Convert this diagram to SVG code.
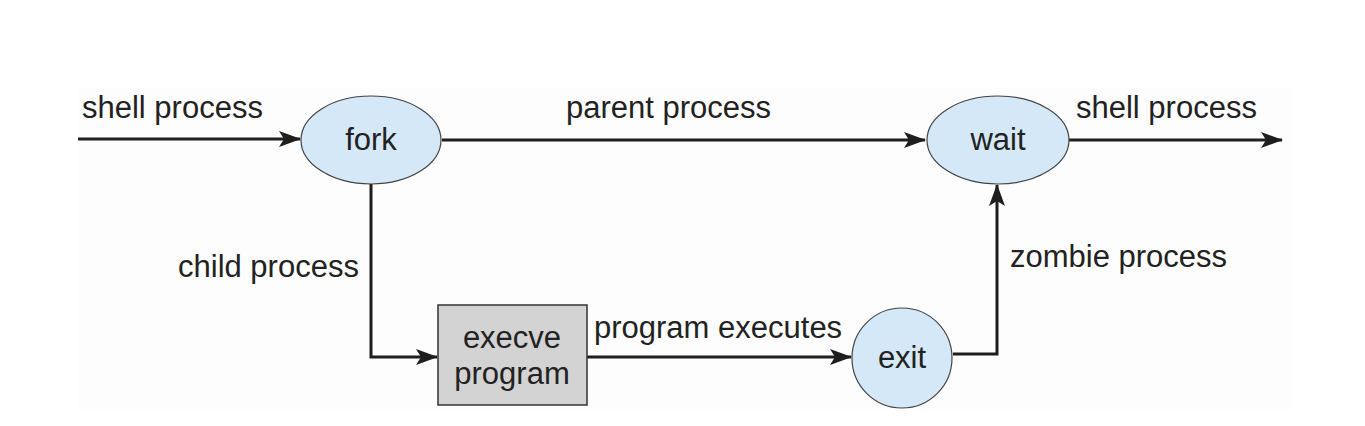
<svg xmlns="http://www.w3.org/2000/svg" width="1365" height="426" viewBox="0 0 1365 426">
<style>
.n{fill:#d5e8f8;stroke:#444;stroke-width:1.2}
.b{fill:#d3d3d3;stroke:#333;stroke-width:1.5}
.c{fill:none;stroke:#1e1e1e;stroke-width:3}
text{font-family:"Liberation Sans",Arial,sans-serif;font-size:31px;fill:#222}
.m{text-anchor:middle}
</style>
<defs>
<marker id="a" viewBox="0 0 22 16" refX="21" refY="8" markerWidth="22" markerHeight="16" markerUnits="userSpaceOnUse" orient="auto">
<path d="M0,0 L22,8 L0,16 L5,8 Z" fill="#1e1e1e"/>
</marker>
</defs>
<rect width="1365" height="426" fill="#fff"/>
<rect x="78" y="88" width="1214" height="322" fill="#fdfdfd"/>
<g id="connectors">
<path class="c" d="M78,139 H300" marker-end="url(#a)"/>
<path class="c" d="M442,140 H925" marker-end="url(#a)"/>
<path class="c" d="M1069,140 H1282" marker-end="url(#a)"/>
<path class="c" d="M371,184 V357 H437" marker-end="url(#a)"/>
<path class="c" d="M587,357 H851" marker-end="url(#a)"/>
<path class="c" d="M953,354 H997 V185" marker-end="url(#a)"/>
</g>
<g id="labels">
<text x="82" y="118">shell process</text>
<text x="566" y="118">parent process</text>
<text x="1076" y="118">shell process</text>
<text x="178" y="277">child process</text>
<text x="1010" y="267">zombie process</text>
<text x="594" y="338">program executes</text>
</g>
<g id="fork">
<ellipse class="n" cx="371" cy="140" rx="70" ry="44"/>
<text class="m" x="371" y="150">fork</text>
</g>
<g id="wait">
<ellipse class="n" cx="998" cy="140" rx="71" ry="44"/>
<text class="m" x="998" y="150">wait</text>
</g>
<g id="execve">
<rect class="b" x="438" y="305" width="149" height="100"/>
<text class="m" x="512" y="348">execve</text>
<text class="m" x="512" y="384">program</text>
</g>
<g id="exit">
<ellipse class="n" cx="902" cy="358" rx="50" ry="50"/>
<text class="m" x="902" y="368">exit</text>
</g>
</svg>
